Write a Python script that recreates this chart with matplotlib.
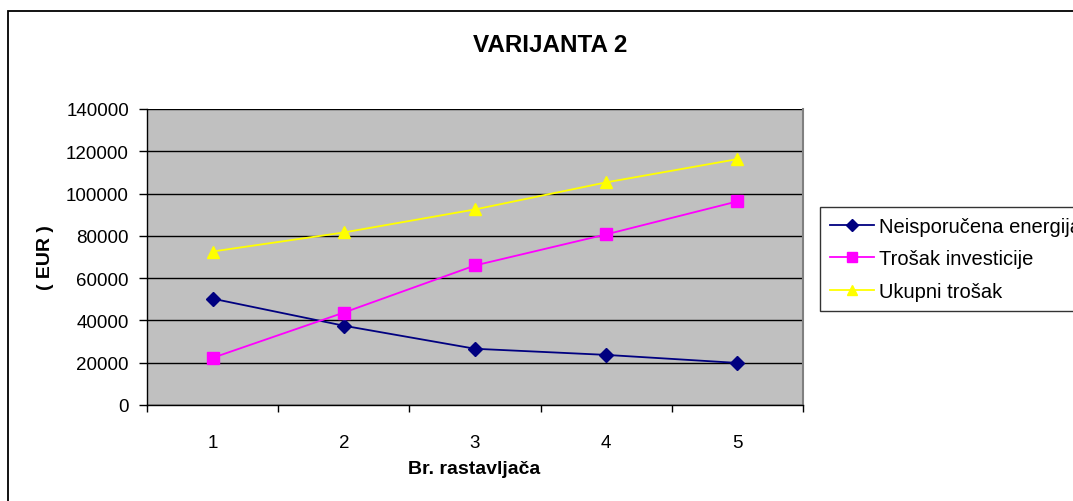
import matplotlib
matplotlib.use("Agg")
import matplotlib.pyplot as plt
from matplotlib.patches import Rectangle

plt.rcParams['font.family'] = ['Liberation Sans', 'DejaVu Sans']

categories = [1, 2, 3, 4, 5]
neisporucena = [50300, 37500, 26600, 23700, 19900]
trosak_inv = [22300, 43700, 66000, 80700, 96300]
ukupni = [72600, 81600, 92500, 105300, 116300]
yticks = [0, 20000, 40000, 60000, 80000, 100000, 120000, 140000]

W, H = 1073, 502
fig = plt.figure(figsize=(W / 100, H / 100), dpi=100)
fig.patch.set_facecolor('white')

# outer chart border
fig.add_artist(Rectangle((8 / W, -0.05), 1.1, 1 - 12 / H + 0.05, transform=fig.transFigure,
                         fill=False, edgecolor='black', linewidth=1.3))

ax = fig.add_axes([147 / W, 1 - 406 / H, (803 - 147) / W, (406 - 110) / H])
ax.set_facecolor('#C0C0C0')

ax.plot(categories, neisporucena, color='#000080', marker='D', markersize=7, linewidth=1.3,
        label='Neisporučena energija')
ax.plot(categories, trosak_inv, color='#FF00FF', marker='s', markersize=8, linewidth=1.3,
        label='Trošak investicije')
ax.plot(categories, ukupni, color='#FFFF00', marker='^', markersize=9, linewidth=1.3,
        label='Ukupni trošak')

ax.set_xlim(0.5, 5.5)
ax.set_ylim(0, 140000)
ax.set_yticks(yticks)
ax.set_yticklabels([str(v) for v in yticks], fontsize=13.5)
ax.set_xticks(categories)
ax.set_xticklabels([str(c) for c in categories], fontsize=13.5)
ax.set_xticks([0.5, 1.5, 2.5, 3.5, 4.5, 5.5], minor=True)
ax.tick_params(axis='x', which='major', length=0, pad=21)
ax.tick_params(axis='x', which='minor', length=5, width=1, color='black')
ax.tick_params(axis='y', length=6, width=1, color='black', pad=7)
ax.grid(axis='y', color='black', linewidth=1)
ax.set_axisbelow(True)

ax.spines['right'].set_color('#808080')
ax.spines['right'].set_linewidth(1.5)
ax.spines['top'].set_visible(False)
for s in ['left', 'bottom']:
    ax.spines[s].set_color('black')
    ax.spines[s].set_linewidth(1)

fig.text(550 / W, 1 - 45 / H, 'VARIJANTA 2', fontsize=17.5, fontweight='bold',
         ha='center', va='center')
fig.text(474 / W, 1 - 470 / H, 'Br. rastavljača', fontsize=14, fontweight='bold',
         ha='center', va='center')
fig.text(45 / W, 1 - 258 / H, '( EUR )', fontsize=14, fontweight='bold',
         ha='center', va='center', rotation=90)

leg = ax.legend(loc='upper left', bbox_to_anchor=(820 / W, 1 - 208 / H),
                bbox_transform=fig.transFigure, fontsize=14.5, frameon=True,
                fancybox=False, edgecolor='black', borderaxespad=0,
                handlelength=2.2, handletextpad=0.25, labelspacing=0.66,
                borderpad=0.5, markerscale=0.85)
leg.get_frame().set_linewidth(1)

fig.savefig('out.png', dpi=100)
